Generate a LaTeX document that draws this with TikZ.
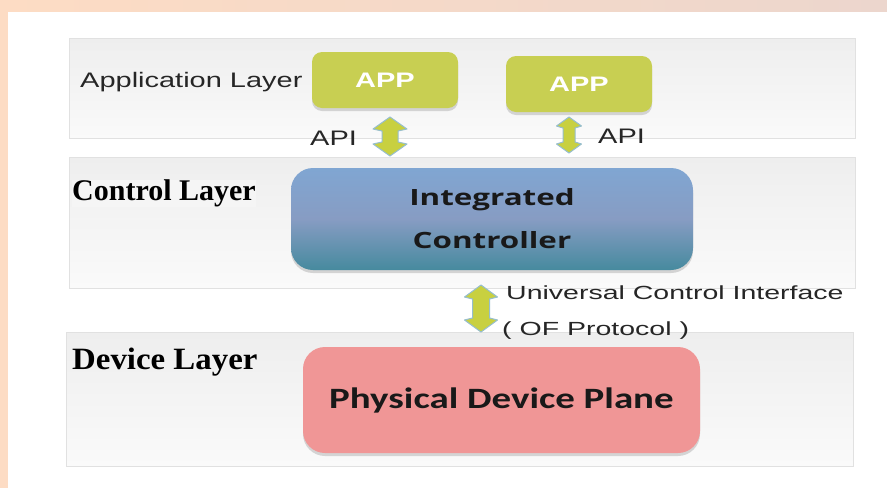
\documentclass[tikz,border=0pt]{standalone}
\usepackage{fontspec}
\usetikzlibrary{shadows}
\setmainfont{Liberation Serif}
\newfontfamily\sansA[FakeStretch=1.38]{Liberation Sans}
\newfontfamily\sansU[FakeStretch=1.5]{Liberation Sans}
\newfontfamily\boxfont[FakeStretch=1.4]{Open Sans}
\newfontfamily\calfont[FakeStretch=1.32]{Carlito}
\newfontfamily\serwide[FakeStretch=1.06]{Liberation Serif}
\definecolor{peachL}{RGB}{253,220,196}
\definecolor{peachR}{RGB}{236,214,205}
\definecolor{bandtop}{RGB}{238,238,238}
\definecolor{bandbot}{RGB}{250,250,250}
\definecolor{bandline}{RGB}{225,225,225}
\definecolor{appgreen}{RGB}{200,207,82}
\definecolor{ctrltop}{RGB}{128,166,210}
\definecolor{ctrlmid}{RGB}{135,156,195}
\definecolor{ctrlbot}{RGB}{70,138,158}
\definecolor{devred}{RGB}{240,150,150}
\definecolor{arrfill}{RGB}{200,208,64}
\definecolor{arrline}{RGB}{150,190,205}
\tikzset{
  band/.style={draw=bandline, line width=0.8pt, top color=bandtop, bottom color=bandbot, inner sep=0pt, anchor=north west},
  boxshadow/.style={drop shadow={opacity=0.3, shadow xshift=0pt, shadow yshift=-3pt}},
  appbox/.style={rounded corners=10pt, fill=appgreen, boxshadow, minimum width=146pt, minimum height=56pt, inner sep=0pt, text=white, font=\sansA\bfseries\fontsize{21}{25}\selectfont},
  ctrlbox/.style={rounded corners=22pt, top color=ctrltop, bottom color=ctrlbot, middle color=ctrlmid, boxshadow, minimum width=402pt, minimum height=102pt, inner sep=0pt, align=center, text=black!90, font=\boxfont\bfseries\fontsize{22.4}{43}\selectfont},
  devbox/.style={rounded corners=22pt, fill=devred, boxshadow, minimum width=397pt, minimum height=106pt, inner sep=0pt, text=black!90, font=\calfont\bfseries\fontsize{29.5}{34}\selectfont},
  blockarrow/.style={fill=arrfill, draw=arrline, line width=1pt, line join=round},
  sanslbl/.style={anchor=base west, inner sep=0pt, text=black!85, font=\sansA\fontsize{21}{25}\selectfont},
  ucilbl/.style={anchor=base west, inner sep=0pt, text=black!85, font=\sansU\fontsize{19}{23}\selectfont},
  serlbl/.style={anchor=base west, inner sep=0pt, text=black, font=\bfseries\fontsize{30}{36}\selectfont}
}
% #1 centre, #2 half length, #3 half head width, #4 half shaft width, #5 head length
\newcommand\dblarrowpath[5]{%
  \draw[blockarrow, shift={(#1)}]
    (0,-#2) -- (#3,-#2+#5) -- (#4,-#2+#5+2) -- (#4,#2-#5-2) -- (#3,#2-#5)
    -- (0,#2) -- (-#3,#2-#5) -- (-#4,#2-#5-2) -- (-#4,-#2+#5+2) -- (-#3,-#2+#5) -- cycle;}
\begin{document}
\begin{tikzpicture}[x=1pt,y=-1pt]
\useasboundingbox (0,0) rectangle (887,488);
\fill[white] (0,0) rectangle (887,488);
\shade[left color=peachL, right color=peachR] (0,0) rectangle (887,11);
\fill[peachL] (0,0) rectangle (8,488);
% bands
\node[band, minimum width=786pt, minimum height=100pt] (appband) at (69,38) {};
\node[band, minimum width=786pt, minimum height=131pt] (ctrlband) at (69,157) {};
\node[band, minimum width=787pt, minimum height=134pt] (devband) at (66,332) {};
% layer labels
\node[sanslbl] (applbl) at (80,87) {Application Layer};
\node[serlbl, fill=white!96!black] (ctrllbl) at (72,200.7) {Control Layer};
\node[serlbl, font=\serwide\bfseries\fontsize{31}{36}\selectfont] (devlbl) at (72,369) {Device Layer};
% boxes
\node[appbox] (app1) at (385,80) {APP};
\node[appbox] (app2) at (579,84) {APP};
\node[ctrlbox] (ctrl) at (492,219) {Integrated\\Controller};
\node[devbox] (dev) at (501.5,400) {Physical Device Plane};
% arrows
\coordinate (a1) at (390,136.5);
\coordinate (a2) at (569,135);
\coordinate (a3) at (481,308.5);
\dblarrowpath{a1}{19.5}{17}{8}{12}
\dblarrowpath{a2}{18}{12.5}{6}{9}
\dblarrowpath{a3}{23.5}{16.5}{8.5}{12}
% arrow labels
\node[sanslbl] (api1) at (310,145) {API};
\node[sanslbl] (api2) at (598,143) {API};
\node[ucilbl] (uci) at (506,299) {Universal Control Interface};
\node[ucilbl] (ofp) at (502,335) {( OF Protocol )};
\end{tikzpicture}
\end{document}
